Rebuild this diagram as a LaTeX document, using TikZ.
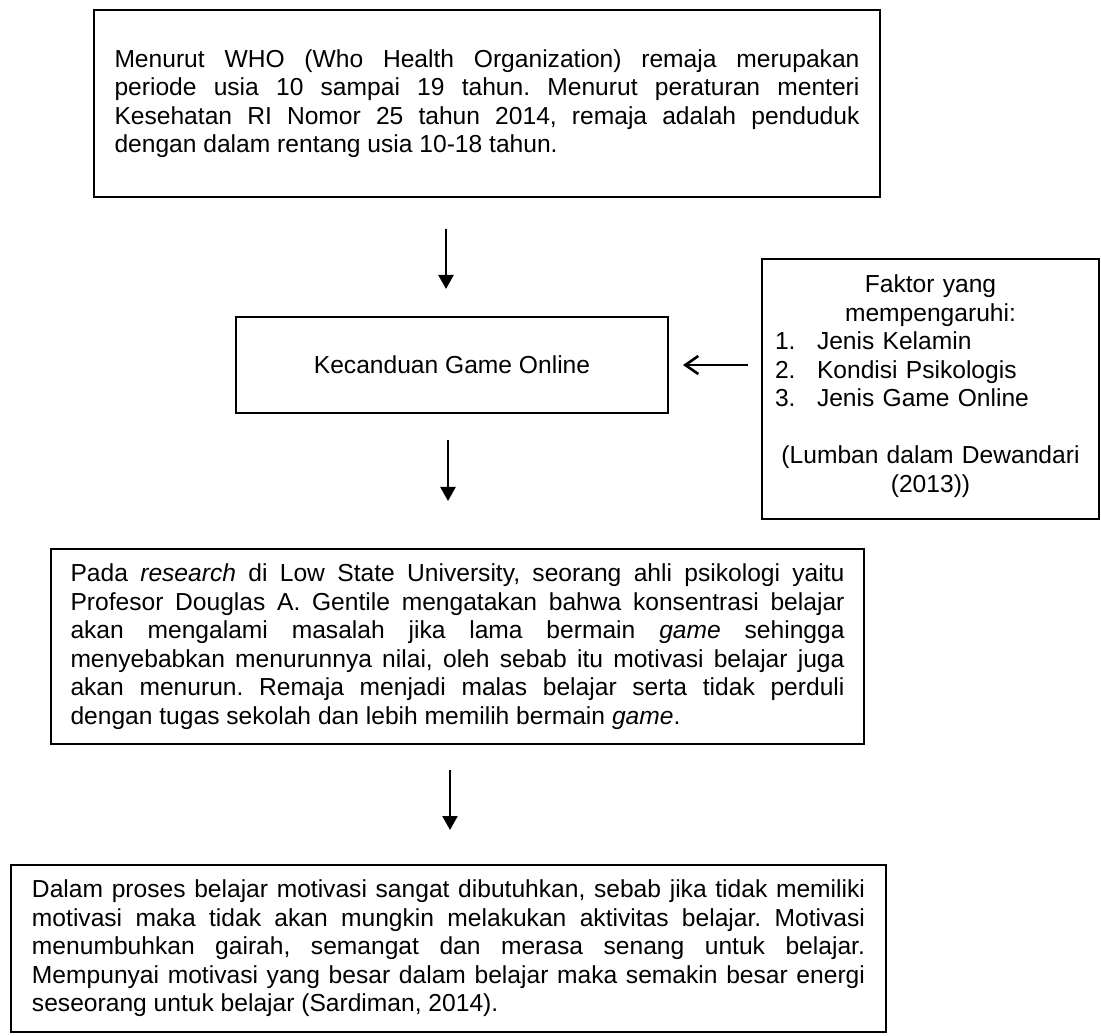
\documentclass[tikz,border=0pt]{standalone}
\usepackage{fontspec}
\setmainfont{Liberation Sans}
\usetikzlibrary{arrows.meta}
\frenchspacing
\begin{document}
\begin{tikzpicture}[x=0.5pt,y=-0.5pt,
  box/.style={draw, line width=0.95pt, inner sep=0pt},
  txt/.style={font=\fontsize{12.3}{14.25}\selectfont\frenchspacing},
  para/.style={txt, align=justify},
  downarrow/.style={line width=1.2pt, -{Triangle[length=7pt,width=7.5pt]}},
  sidearrow/.style={line width=1.3pt, -{Straight Barb[length=6.5pt,width=9pt]}}]
\useasboundingbox (0,0) rectangle (1101,1036);
\fill[white] (0,0) rectangle (1101,1036);

\node[box, para, minimum width=393pt, minimum height=93.5pt, text width=372.5pt] (who) at (487,103.5)
{Menurut WHO (Who Health Organization) remaja merupakan\linebreak
periode usia 10 sampai 19 tahun. Menurut peraturan menteri\linebreak
Kesehatan RI Nomor 25 tahun 2014, remaja adalah penduduk\linebreak
dengan dalam rentang usia 10-18 tahun.};

\node[box, txt, minimum width=216pt, minimum height=48pt] (game) at (452,365) {Kecanduan Game Online};

\node[box, minimum width=168.5pt, minimum height=130pt] (fak) at (930.5,389) {};
\node[txt, align=center, text width=168.5pt, inner sep=0pt] (faktxt) at (930.5,386)
{Faktor yang\\
mempengaruhi:\\
\makebox[168.5pt][l]{\hspace{6.5pt}\makebox[21pt][l]{1.}Jenis Kelamin}\\
\makebox[168.5pt][l]{\hspace{6.5pt}\makebox[21pt][l]{2.}Kondisi Psikologis}\\
\makebox[168.5pt][l]{\hspace{6.5pt}\makebox[21pt][l]{3.}Jenis Game Online}\\[14.25pt]
(Lumban dalam Dewandari\\
(2013))};

\node[box, para, minimum width=406.5pt, minimum height=97.5pt, text width=387pt] (research) at (457.5,646.5)
{Pada \textit{research} di Low State University, seorang ahli psikologi yaitu\linebreak
Profesor Douglas A. Gentile mengatakan bahwa konsentrasi belajar\linebreak
akan mengalami masalah jika lama bermain \textit{game} sehingga\linebreak
menyebabkan menurunnya nilai, oleh sebab itu motivasi belajar juga\linebreak
akan menurun. Remaja menjadi malas belajar serta tidak perduli\linebreak
dengan tugas sekolah dan lebih memilih bermain \textit{game}.};

\node[box, para, minimum width=437.5pt, minimum height=83.5pt, text width=416.5pt] (motiv) at (448.5,948.5)
{Dalam proses belajar motivasi sangat dibutuhkan, sebab jika tidak memiliki\linebreak
motivasi maka tidak akan mungkin melakukan aktivitas belajar. Motivasi\linebreak
menumbuhkan gairah, semangat dan merasa senang untuk belajar.\linebreak
Mempunyai motivasi yang besar dalam belajar maka semakin besar energi\linebreak
seseorang untuk belajar (Sardiman, 2014).};

\coordinate (a1s) at (446,229);
\coordinate (a1e) at (446,289);
\coordinate (a2s) at (448,440);
\coordinate (a2e) at (448,501);
\coordinate (a3s) at (450,770);
\coordinate (a3e) at (450,830);
\coordinate (sas) at (748,365);
\coordinate (sae) at (683,365);

\draw[downarrow] (a1s) -- (a1e);
\draw[downarrow] (a2s) -- (a2e);
\draw[downarrow] (a3s) -- (a3e);
\draw[sidearrow] (sas) -- (sae);
\end{tikzpicture}
\end{document}
